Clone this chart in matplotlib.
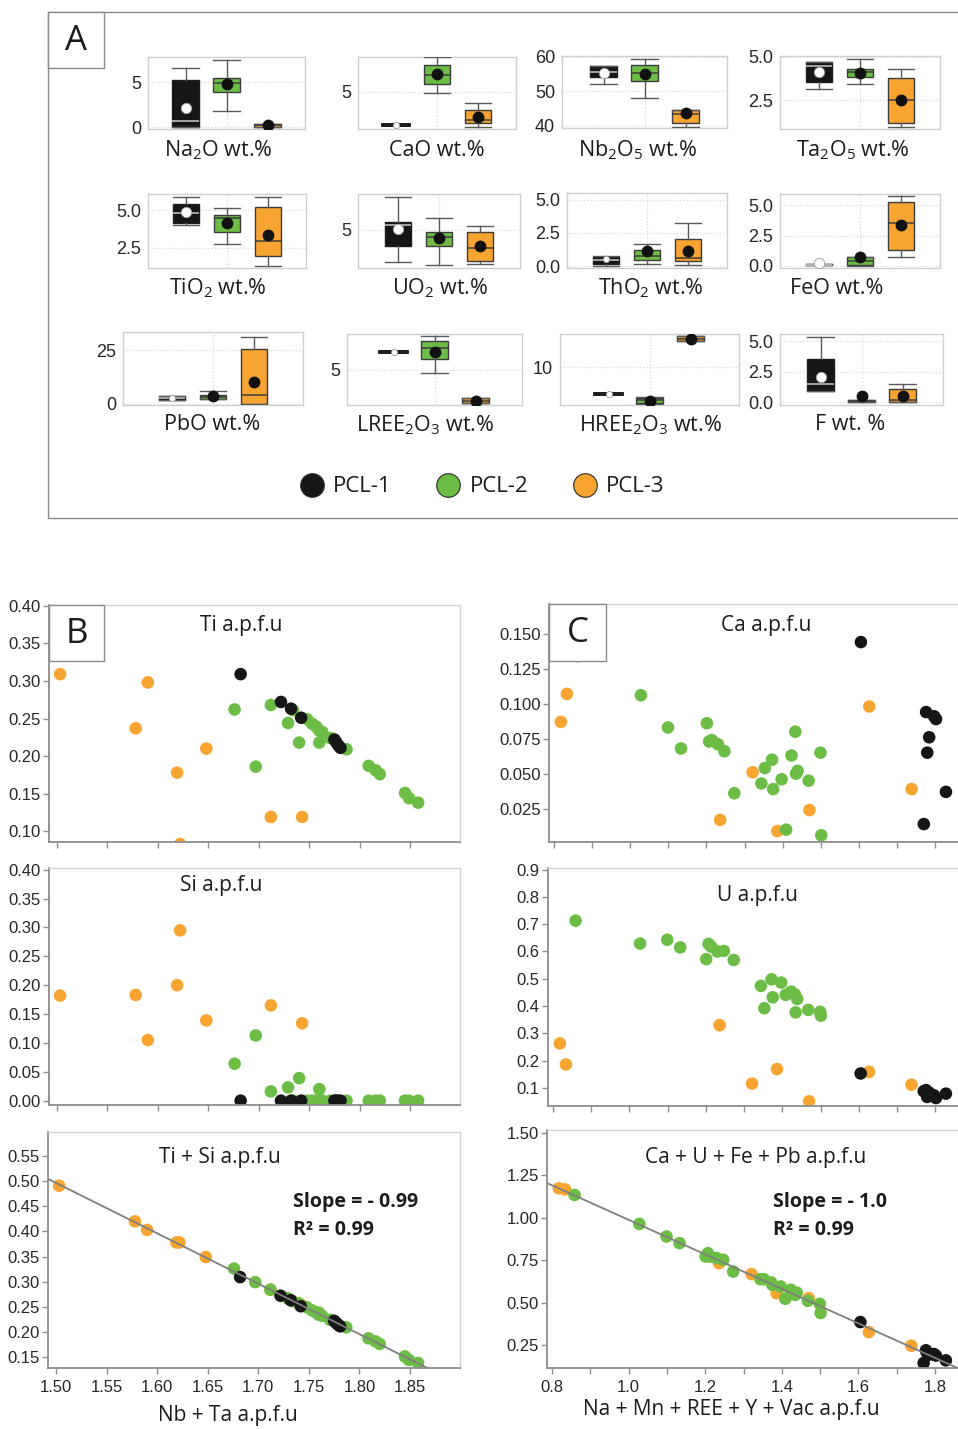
import numpy as np
import matplotlib
matplotlib.use("Agg")
import matplotlib.pyplot as plt
from matplotlib.patches import Rectangle
from matplotlib.lines import Line2D
from matplotlib.ticker import FixedLocator, FormatStrFormatter

# ---------------- Panel A: oxide summaries ----------------
# each row: whisker low, Q1, median, Q3, whisker high, mean  (PCL-1, PCL-2, PCL-3)
groups = ["PCL-1", "PCL-2", "PCL-3"]
na2o = [[0.0, 0.0, 0.7, 5.28, 6.6, 2.14], [1.85, 3.86, 4.93, 5.42, 7.5, 4.82], [0.0, 0.05, 0.2, 0.39, 0.4, 0.25]]
cao = [[1.5, 1.5, 1.5, 1.5, 1.5, 1.5], [4.89, 5.86, 6.75, 7.85, 8.64, 6.85], [1.25, 1.74, 2.03, 3.03, 3.82, 2.32]]
nb2o5 = [[52.0, 54.0, 55.7, 57.4, 57.4, 55.3], [48.2, 53.1, 55.3, 57.6, 59.3, 55.0], [39.8, 40.8, 43.4, 44.6, 44.6, 43.6]]
ta2o5 = [[3.16, 3.53, 4.48, 4.72, 4.72, 4.1], [3.44, 3.82, 4.14, 4.29, 4.85, 4.06], [0.96, 1.22, 2.54, 3.78, 4.29, 2.54]]
tio2 = [[4.0, 4.15, 4.78, 5.38, 5.89, 4.84], [2.72, 3.51, 4.44, 4.67, 5.16, 4.15], [1.27, 1.92, 2.95, 5.22, 5.89, 3.33]]
uo2 = [[1.83, 3.43, 5.5, 5.83, 8.33, 5.07], [1.5, 3.43, 4.33, 4.83, 6.23, 4.17], [1.57, 1.9, 3.23, 4.83, 5.43, 3.37]]
tho2 = [[0.05, 0.15, 0.45, 0.71, 0.75, 0.55], [0.2, 0.45, 0.78, 1.21, 1.64, 1.14], [0.08, 0.38, 0.63, 2.02, 3.28, 1.14]]
feo = [[0.05, 0.05, 0.1, 0.15, 0.15, 0.28], [0.02, 0.06, 0.45, 0.7, 0.75, 0.7], [0.7, 1.31, 3.53, 5.28, 5.75, 3.39]]
pbo = [[2.0, 2.0, 2.9, 3.8, 3.8, 2.9], [2.3, 2.3, 3.1, 4.2, 6.2, 3.55], [0.0, 0.0, 4.2, 25.8, 31.2, 10.0]]
lree2o3 = [[6.97, 6.97, 6.97, 6.97, 6.97, 6.97], [4.7, 6.22, 7.41, 8.22, 8.7, 6.97], [1.3, 1.3, 1.56, 1.86, 1.86, 1.56]]
hree2o3 = [[6.66, 6.66, 6.66, 6.66, 6.66, 6.66], [5.45, 5.5, 5.9, 6.2, 6.3, 5.83], [13.2, 13.2, 13.5, 13.9, 13.9, 13.54]]
f_wt = [[0.96, 0.96, 1.48, 3.57, 5.33, 2.11], [0.0, 0.0, 0.1, 0.2, 0.2, 0.52], [0.0, 0.05, 0.2, 1.07, 1.53, 0.52]]

# ---------------- Panel B: Ti, Si vs Nb + Ta (a.p.f.u) ----------------
b_x_pcl1 = [1.682, 1.722, 1.732, 1.742, 1.775, 1.777, 1.779, 1.781]
b_ti_pcl1 = [0.309, 0.272, 0.263, 0.251, 0.222, 0.218, 0.214, 0.211]
b_si_pcl1 = [0.0, 0.0, 0.0, 0.0, 0.0, 0.0, 0.0, 0.0]

b_x_pcl2 = [1.676, 1.697, 1.712, 1.729, 1.734, 1.740, 1.748, 1.753, 1.757, 1.760,
            1.763, 1.760, 1.771, 1.787, 1.809, 1.816, 1.820, 1.845, 1.849, 1.858]
b_ti_pcl2 = [0.262, 0.186, 0.268, 0.244, 0.261, 0.218, 0.249, 0.243, 0.239, 0.234,
             0.232, 0.218, 0.224, 0.209, 0.187, 0.181, 0.176, 0.151, 0.144, 0.138]
b_si_pcl2 = [0.064, 0.113, 0.016, 0.023, 0.0, 0.039, 0.0, 0.0, 0.0, 0.0,
             0.0, 0.020, 0.0, 0.0, 0.0, 0.0, 0.0, 0.0, 0.0, 0.0]

b_x_pcl3 = [1.503, 1.578, 1.590, 1.619, 1.622, 1.648, 1.712, 1.743]
b_ti_pcl3 = [0.309, 0.237, 0.298, 0.178, 0.083, 0.210, 0.119, 0.119]
b_si_pcl3 = [0.182, 0.183, 0.105, 0.200, 0.295, 0.139, 0.165, 0.134]

# ---------------- Panel C: Ca, U, Ca+U+Fe+Pb vs Na+Mn+REE+Y+Vac ----------------
c_x_pcl1 = [1.605, 1.770, 1.776, 1.779, 1.784, 1.797, 1.802, 1.828]
c_ca_pcl1 = [0.144, 0.014, 0.094, 0.065, 0.076, 0.091, 0.089, 0.037]
c_u_pcl1 = [0.153, 0.088, 0.092, 0.067, 0.083, 0.073, 0.063, 0.079]
c_sum_pcl1 = [0.387, 0.146, 0.221, 0.205, 0.195, 0.199, 0.190, 0.162]

c_x_pcl2 = [0.859, 1.028, 1.099, 1.133, 1.201, 1.207, 1.214, 1.230, 1.247, 1.273, 1.344, 1.353,
            1.372, 1.375, 1.397, 1.409, 1.423, 1.433, 1.435, 1.439, 1.468, 1.499, 1.501]
c_ca_pcl2 = [0.134, 0.106, 0.083, 0.068, 0.086, 0.073, 0.074, 0.071, 0.066, 0.036, 0.043, 0.054,
             0.060, 0.039, 0.046, 0.010, 0.063, 0.080, 0.050, 0.052, 0.045, 0.065, 0.006]
c_u_pcl2 = [0.713, 0.629, 0.643, 0.615, 0.572, 0.628, 0.618, 0.600, 0.602, 0.569, 0.474, 0.392,
            0.498, 0.432, 0.486, 0.441, 0.453, 0.443, 0.377, 0.426, 0.386, 0.379, 0.365]
c_sum_pcl2 = [1.134, 0.964, 0.890, 0.851, 0.772, 0.792, 0.772, 0.763, 0.753, 0.684, 0.639, 0.639,
              0.620, 0.606, 0.596, 0.524, 0.577, 0.557, 0.547, 0.560, 0.512, 0.494, 0.440]

c_x_pcl3 = [0.818, 0.834, 1.236, 1.321, 1.386, 1.470, 1.627, 1.738]
c_ca_pcl3 = [0.087, 0.107, 0.017, 0.051, 0.009, 0.024, 0.098, 0.039]
c_u_pcl3 = [0.263, 0.186, 0.330, 0.116, 0.169, 0.051, 0.159, 0.112]
c_sum_pcl3 = [1.173, 1.167, 0.733, 0.669, 0.557, 0.528, 0.328, 0.248]

b_xticks = [1.50, 1.55, 1.60, 1.65, 1.70, 1.75, 1.80, 1.85]
c_xticks = [0.8, 1.0, 1.2, 1.4, 1.6, 1.8]
c_xminor = [0.9, 1.1, 1.3, 1.5, 1.7]

# ---------------- figure setup ----------------
W, H = 958, 1429
LABEL_FONT = ["Open Sans", "DejaVu Sans"]
TICK_FONT = ["Liberation Sans", "DejaVu Sans"]
plt.rcParams["font.family"] = TICK_FONT
plt.rcParams["mathtext.fontset"] = "custom"
plt.rcParams["mathtext.rm"] = "Open Sans"
plt.rcParams["mathtext.it"] = "Open Sans:italic"
plt.rcParams["mathtext.bf"] = "Open Sans:bold"
COLORS = ["#161616", "#6cbd45", "#f8a431"]
GRID = "#d9d9d9"
TEXT = "#1c1c1c"

fig = plt.figure(figsize=(W / 100, H / 100), dpi=100)


def frac_rect(l, t, r, b):
    return [l / W, 1 - b / H, (r - l) / W, (b - t) / H]


def fx(px):
    return px / W


def fy(py):
    return 1 - py / H


def label_box(l, t, r, b, letter):
    fig.add_artist(Rectangle((fx(l), fy(b)), (r - l) / W, (b - t) / H, transform=fig.transFigure,
                             facecolor="white", edgecolor="#8a8a8a", lw=1.0, zorder=5))
    fig.text(fx((l + r) / 2), fy((t + b) / 2 + 1), letter, ha="center", va="center",
             fontsize=25, family=LABEL_FONT, color=TEXT, zorder=6)


# frame around panel A
fig.add_artist(Rectangle((fx(48), fy(518)), (975 - 48) / W, (518 - 12) / H, transform=fig.transFigure,
                         fill=False, edgecolor="#8a8a8a", lw=1.0, zorder=1))
label_box(48, 12, 104, 68, "A")

# (label, stats, axes rect px, ylim, yticks, ytick labels, label centre px, compact PCL-1 mean)
box_panels = [
    (r"$\mathrm{Na_2O}$ wt.%", na2o, (148, 57, 305, 129), (-0.2, 7.8), [0, 5], ["0", "5"], (218, 150), False),
    ("CaO wt.%", cao, (358, 57, 516, 129), (1.07, 8.68), [5], ["5"], (437, 150), True),
    (r"$\mathrm{Nb_2O_5}$ wt.%", nb2o5, (562, 56, 727, 128), (39.4, 60.2), [40, 50, 60], ["40", "50", "60"], (638, 150), False),
    (r"$\mathrm{Ta_2O_5}$ wt.%", ta2o5, (780, 56, 940, 129), (0.85, 5.04), [2.5, 5.0], ["2.5", "5.0"], (853, 150), False),
    (r"$\mathrm{TiO_2}$ wt.%", tio2, (148, 194, 306, 268), (1.14, 6.07), [2.5, 5.0], ["2.5", "5.0"], (218, 288), False),
    (r"$\mathrm{UO_2}$ wt.%", uo2, (358, 194, 520, 268), (1.2, 8.6), [5], ["5"], (440, 288), False),
    (r"$\mathrm{ThO_2}$ wt.%", tho2, (567, 193, 727, 268), (-0.13, 5.5), [0, 2.5, 5.0], ["0.0", "2.5", "5.0"], (651, 288), True),
    ("FeO wt.%", feo, (780, 194, 940, 268), (-0.17, 5.95), [0, 2.5, 5.0], ["0.0", "2.5", "5.0"], (837, 288), False),
    ("PbO wt.%", pbo, (123, 332, 303, 405), (-0.5, 33.5), [0, 25], ["0", "25"], (212, 425), True),
    (r"$\mathrm{LREE_2O_3}$ wt.%", lree2o3, (347, 334, 522, 405), (1.11, 8.97), [5], ["5"], (425, 425), True),
    (r"$\mathrm{HREE_2O_3}$ wt.%", hree2o3, (560, 334, 739, 405), (5.29, 14.1), [10], ["10"], (650, 425), True),
    ("F wt. %", f_wt, (780, 334, 943, 405), (-0.22, 5.6), [0, 2.5, 5.0], ["0.0", "2.5", "5.0"], (850, 425), False),
]

for label, stats, rect, ylim, yt, ytl, lxy, compact in box_panels:
    ax = fig.add_axes(frac_rect(*rect))
    half = (rect[2] - rect[0]) / 2 / 41.0
    ax.set_xlim(2 - half, 2 + half)
    ax.set_ylim(*ylim)
    bstats = [dict(whislo=s[0], q1=s[1], med=s[2], q3=s[3], whishi=s[4], mean=s[5], fliers=[])
              for s in stats]
    art = ax.bxp(bstats, positions=[1, 2, 3], widths=0.65, capwidths=0.65, patch_artist=True,
                 showmeans=True, showfliers=False, manage_ticks=False, zorder=3)
    for i, s in enumerate(stats):
        flat = s[1] == s[3]
        box = art["boxes"][i]
        box.set_facecolor(COLORS[i])
        box.set_edgecolor("#1e1e1e" if i == 0 else "#3c3c3c")
        box.set_linewidth(2.6 if flat else 1.0)
        med = art["medians"][i]
        if flat:
            med.set_color("#1e1e1e")
            med.set_linewidth(2.6)
        else:
            med.set_color("#c9c9c9" if i == 0 else "#3c3c3c")
            med.set_linewidth(1.1)
        for w in art["whiskers"][2 * i:2 * i + 2] + art["caps"][2 * i:2 * i + 2]:
            w.set_color("#1e1e1e" if flat else "#5a5a5a")
            w.set_linewidth(2.6 if flat else 1.0)
        mn = art["means"][i]
        mn.set_marker("o")
        if i == 0:
            mn.set_markerfacecolor("white")
            mn.set_markeredgecolor("#9a9a9a")
            mn.set_markeredgewidth(0.6)
            mn.set_markersize(4.5 if compact else 7.5)
        else:
            mn.set_markerfacecolor("#111111")
            mn.set_markeredgecolor("#111111")
            mn.set_markersize(7.5)
        mn.set_zorder(5)
    ax.set_xticks([])
    ax.set_yticks(yt)
    ax.set_yticklabels(ytl)
    ax.yaxis.grid(True, ls=":", color=GRID, lw=0.9)
    ax.set_axisbelow(True)
    ax.axvline(2, ls=":", color=GRID, lw=0.9, zorder=0)
    ax.tick_params(axis="y", length=0, pad=5, labelsize=13, labelcolor="#262626")
    for sp in ax.spines.values():
        sp.set_color("#cfcfcf")
        sp.set_linewidth(1.0)
    fig.text(fx(lxy[0]), fy(lxy[1]), label, ha="center", va="center", fontsize=15.5,
             family=LABEL_FONT, color=TEXT)

# legend for the three groups
handles = [Line2D([], [], ls="none", marker="o", markersize=17, markerfacecolor=c,
                  markeredgecolor="#2a2a2a", markeredgewidth=0.8) for c in COLORS]
leg = fig.legend(handles, groups, loc="center", bbox_to_anchor=(fx(482), fy(487)), ncol=3,
                 frameon=False, handlelength=1.1, handletextpad=0.4, columnspacing=2.0,
                 prop={"family": LABEL_FONT, "size": 16})
for t in leg.get_texts():
    t.set_color(TEXT)


# ---------------- scatter panels ----------------
def scatter_axes(rect, xlim, ylim, yticks, yfmt):
    ax = fig.add_axes(frac_rect(*rect))
    ax.set_xlim(*xlim)
    ax.set_ylim(*ylim)
    ax.yaxis.set_major_locator(FixedLocator(yticks))
    ax.yaxis.set_major_formatter(FormatStrFormatter(yfmt))
    for side in ("left", "bottom"):
        ax.spines[side].set_color("#8e8e8e")
        ax.spines[side].set_linewidth(1.3)
    for side in ("top", "right"):
        ax.spines[side].set_color("#d2d2d2")
        ax.spines[side].set_linewidth(1.0)
    ax.tick_params(which="both", direction="out", length=4, width=1, color="#8e8e8e",
                   labelsize=12, labelcolor="#262626", pad=2)
    return ax


def draw_points(ax, xs, ys):
    for i in (2, 1, 0):
        ax.scatter(xs[i], ys[i], s=82, color=COLORS[i], edgecolors="none", zorder=2)


def draw_fit(ax, xs, ys):
    xa = np.concatenate([np.asarray(v, float) for v in xs])
    ya = np.concatenate([np.asarray(v, float) for v in ys])
    coef = np.polyfit(xa, ya, 1)
    xx = np.array(ax.get_xlim())
    ax.plot(xx, np.polyval(coef, xx), color="#7e7e7e", lw=1.3, zorder=4)


def title(x, y, s):
    fig.text(fx(x), fy(y), s, ha="center", va="center", fontsize=15, family=LABEL_FONT, color=TEXT)


b_xlim = (1.492, 1.8995)
b_x = [b_x_pcl1, b_x_pcl2, b_x_pcl3]
b_ti = [b_ti_pcl1, b_ti_pcl2, b_ti_pcl3]
b_si = [b_si_pcl1, b_si_pcl2, b_si_pcl3]
b_sum = [list(np.add(t, s)) for t, s in zip(b_ti, b_si)]

axb1 = scatter_axes((49, 605, 460, 842), b_xlim, (0.0857, 0.401), [0.10, 0.15, 0.20, 0.25, 0.30, 0.35, 0.40], "%.2f")
axb2 = scatter_axes((49, 868, 460, 1105), b_xlim, (-0.0075, 0.403), [0.00, 0.05, 0.10, 0.15, 0.20, 0.25, 0.30, 0.35, 0.40], "%.2f")
axb3 = scatter_axes((48, 1132, 460, 1368), b_xlim, (0.128, 0.598), [0.15, 0.20, 0.25, 0.30, 0.35, 0.40, 0.45, 0.50, 0.55], "%.2f")
for ax in (axb1, axb2, axb3):
    ax.xaxis.set_major_locator(FixedLocator(b_xticks))
    ax.xaxis.set_major_formatter(FormatStrFormatter("%.2f"))
for ax in (axb1, axb2):
    ax.tick_params(axis="x", labelbottom=False)
axb3.tick_params(axis="x", pad=5)

draw_points(axb1, b_x, b_ti)
draw_points(axb2, b_x, b_si)
draw_points(axb3, b_x, b_sum)
draw_fit(axb3, b_x, b_sum)

c_xlim = (0.787, 1.878)
c_x = [c_x_pcl1, c_x_pcl2, c_x_pcl3]
c_ca = [c_ca_pcl1, c_ca_pcl2, c_ca_pcl3]
c_u = [c_u_pcl1, c_u_pcl2, c_u_pcl3]
c_sum = [c_sum_pcl1, c_sum_pcl2, c_sum_pcl3]

axc1 = scatter_axes((549, 604, 965, 842), c_xlim, (0.0012, 0.1712), [0.025, 0.050, 0.075, 0.100, 0.125, 0.150], "%.3f")
axc2 = scatter_axes((548, 868, 965, 1106), c_xlim, (0.0338, 0.906), [0.1, 0.2, 0.3, 0.4, 0.5, 0.6, 0.7, 0.8, 0.9], "%.1f")
axc3 = scatter_axes((547, 1130, 965, 1368), c_xlim, (0.117, 1.516), [0.25, 0.50, 0.75, 1.00, 1.25, 1.50], "%.2f")
for ax in (axc1, axc2, axc3):
    ax.xaxis.set_major_locator(FixedLocator(c_xticks))
    ax.xaxis.set_minor_locator(FixedLocator(c_xminor))
    ax.xaxis.set_major_formatter(FormatStrFormatter("%.1f"))
for ax in (axc1, axc2):
    ax.tick_params(axis="x", labelbottom=False)
axc3.tick_params(axis="x", pad=5)

draw_points(axc1, c_x, c_ca)
draw_points(axc2, c_x, c_u)
draw_points(axc3, c_x, c_sum)
draw_fit(axc3, c_x, c_sum)

# panel titles and annotations
title(241, 625, "Ti a.p.f.u")
title(221, 885, "Si a.p.f.u")
title(220, 1157, "Ti + Si a.p.f.u")
title(766, 625, "Ca a.p.f.u")
title(757, 895, "U a.p.f.u")
title(756, 1157, "Ca + U + Fe + Pb a.p.f.u")

for x0, slope_txt in ((293, "Slope = - 0.99"), (773, "Slope = - 1.0")):
    fig.text(fx(x0), fy(1202), slope_txt, ha="left", va="center", fontsize=14, fontweight="bold",
             family=LABEL_FONT, color=TEXT)
    fig.text(fx(x0), fy(1230), "R² = 0.99", ha="left", va="center", fontsize=14, fontweight="bold",
             family=LABEL_FONT, color=TEXT)

fig.text(fx(228), fy(1415), "Nb + Ta a.p.f.u", ha="center", va="center", fontsize=15,
         family=LABEL_FONT, color=TEXT)
fig.text(fx(731), fy(1409), "Na + Mn + REE + Y + Vac a.p.f.u", ha="center", va="center",
         fontsize=15, family=LABEL_FONT, color=TEXT)

label_box(49, 605, 104, 661, "B")
label_box(549, 604, 606, 661, "C")

fig.savefig("out.png", dpi=100, facecolor="white")
